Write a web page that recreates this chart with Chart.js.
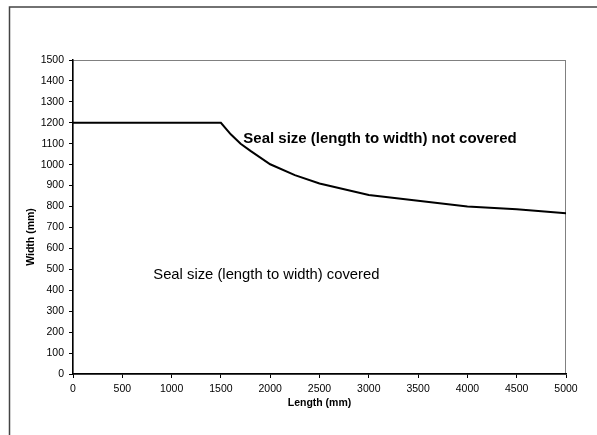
<!DOCTYPE html>
<html>
<head>
<meta charset="utf-8">
<script src="https://cdn.jsdelivr.net/npm/chart.js@4/dist/chart.umd.min.js"></script>
<style>
  html, body { margin: 0; padding: 0; background: #fff; }
</style>
</head>
<body>
<canvas id="seal" width="597" height="435"></canvas>
<script>
// limit curve (length mm -> width mm)
var lengths = [0, 1500, 1600, 1700, 1800, 2000, 2250, 2500, 3000, 3500, 4000, 4500, 5000];
var widths  = [1200, 1200, 1145, 1100, 1066, 1002, 950, 910, 855, 828, 800, 787, 768];

var xTicks = [0, 500, 1000, 1500, 2000, 2500, 3000, 3500, 4000, 4500, 5000];
var yTicks = [0, 100, 200, 300, 400, 500, 600, 700, 800, 900, 1000, 1100, 1200, 1300, 1400, 1500];

// region labels, anchored in data units (left edge, vertical middle)
var notCoveredLabel = { text: 'Seal size (length to width) not covered', x: 1727, y: 1124 };
var coveredLabel = { text: 'Seal size (length to width) covered', x: 814, y: 472 };

var font = 'Arial, "Liberation Sans", sans-serif';

var points = lengths.map(function (l, i) { return { x: l, y: widths[i] }; });

var frame = {
    id: 'frame',
    beforeDraw: function (chart) {
        var c = chart.ctx, a = chart.chartArea;
        c.save();
        // outer box, only top and left edges fall in the window
        c.strokeStyle = '#444';
        c.lineWidth = 1.5;
        c.beginPath();
        c.moveTo(9.5, 440);
        c.lineTo(9.5, 7);
        c.lineTo(600, 7);
        c.stroke();
        // plot area outline (grey top/right)
        c.strokeStyle = '#808080';
        c.lineWidth = 1;
        c.strokeRect(a.left, a.top + 0.5, a.right - a.left - 0.5, a.bottom - a.top);
        c.restore();
    },
    afterDraw: function (chart) {
        var c = chart.ctx;
        var xs = chart.scales.x, ys = chart.scales.y;
        c.save();
        c.fillStyle = '#000';
        c.textBaseline = 'middle';
        c.textAlign = 'left';
        c.font = 'bold 15px ' + font;
        c.fillText(notCoveredLabel.text, xs.getPixelForValue(notCoveredLabel.x), ys.getPixelForValue(notCoveredLabel.y));
        c.font = '14.8px ' + font;
        c.fillText(coveredLabel.text, xs.getPixelForValue(coveredLabel.x), ys.getPixelForValue(coveredLabel.y));
        // y axis title
        c.translate(31, 237);
        c.rotate(-Math.PI / 2);
        c.textAlign = 'center';
        c.font = 'bold 10.5px ' + font;
        c.fillText('Width (mm)', 0, 0);
        c.restore();
    }
};

function plain(v) { return String(v); }

var ctx = document.getElementById('seal').getContext('2d');
var myChart = new Chart(ctx, {
    type: 'line',
    data: {
        datasets: [{
            label: 'Limit',
            data: points,
            borderColor: '#000',
            backgroundColor: '#000',
            borderWidth: 2,
            pointRadius: 0,
            fill: false,
            tension: 0
        }]
    },
    options: {
        responsive: false,
        animation: false,
        layout: {
            padding: { left: 0, top: 60, right: 31, bottom: 23 }
        },
        plugins: {
            legend: { display: false },
            tooltip: { enabled: false }
        },
        scales: {
            x: {
                type: 'linear',
                min: 0,
                max: 5000,
                afterBuildTicks: function (s) { s.ticks = xTicks.map(function (v) { return { value: v }; }); },
                afterFit: function (s) { s.height = 38; },
                grid: { drawOnChartArea: false, drawTicks: true, tickLength: 4, color: '#000' },
                border: { color: '#000', width: 1.5 },
                ticks: { color: '#000', font: { family: font, size: 10.5 }, padding: 5, maxRotation: 0, autoSkip: false, callback: plain },
                title: {
                    display: true,
                    text: 'Length (mm)',
                    color: '#000',
                    font: { family: font, size: 10.5, weight: 'bold' },
                    padding: { top: 0, bottom: 3 }
                }
            },
            y: {
                min: 0,
                max: 1500,
                afterBuildTicks: function (s) { s.ticks = yTicks.map(function (v) { return { value: v }; }); },
                afterFit: function (s) { s.width = 73; },
                grid: { drawOnChartArea: false, drawTicks: true, tickLength: 4, color: '#000' },
                border: { color: '#000', width: 1.5 },
                ticks: { color: '#000', font: { family: font, size: 10.5 }, padding: 5, autoSkip: false, callback: plain }
            }
        }
    },
    plugins: [frame]
});
</script>
</body>
</html>
